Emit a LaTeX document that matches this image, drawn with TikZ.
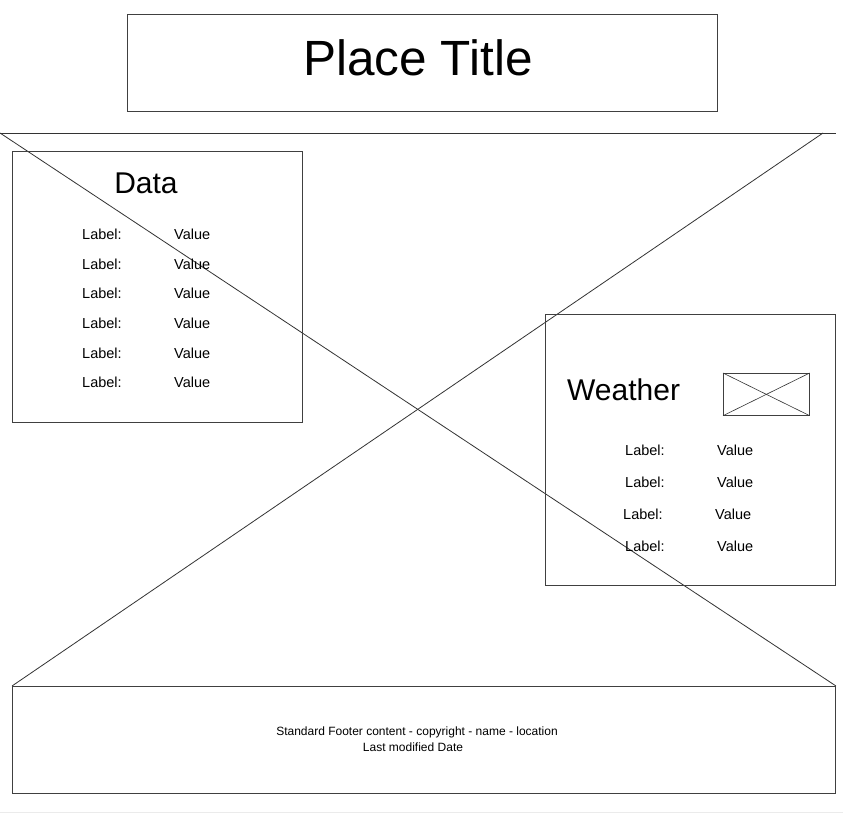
\documentclass[tikz,border=0pt]{standalone}
\usepackage{fontspec}
\setmainfont{Liberation Sans}
\begin{document}
\begin{tikzpicture}[x=1pt,y=-1pt,
  frame/.style={draw=black!75,line width=0.8pt},
  xline/.style={draw=black!80,line width=0.8pt},
  box/.style={frame,inner sep=0pt,anchor=north west},
  lbl/.style={inner sep=0pt,anchor=west,font=\fontsize{14.5}{17}\selectfont},
  foot/.style={inner sep=0pt,anchor=base,font=\fontsize{12}{14}\selectfont}]
\useasboundingbox[fill=white] (0,0) rectangle (843,814);
\draw[black!8,line width=1pt] (0,812) -- (843,812);
% title
\node[box,minimum width=590pt,minimum height=97pt] (title) at (127,14) {};
\node[inner sep=0pt,font=\fontsize{49.5}{55}\selectfont] (ttext) at (418,58) {Place Title};
% big cross
\coordinate (tl) at (0,133);
\coordinate (tr) at (836,133);
\coordinate (trx) at (823,133);
\coordinate (bl) at (12,686);
\coordinate (br) at (836,686);
\draw[xline] (tl) -- (tr);
\draw[xline] (tl) -- (br);
\draw[xline] (trx) -- (bl);
% data box
\node[box,minimum width=290pt,minimum height=271pt] (data) at (12,151) {};
\node[inner sep=0pt,font=\fontsize{30}{34}\selectfont] (dtitle) at (146,183) {Data};
\foreach \y [count=\i] in {234,264,293,323,353,382}{
  \node[lbl] (dl\i) at (82,\y) {Label:};
  \node[lbl] (dv\i) at (174,\y) {Value};
}
% weather box
\node[box,minimum width=290pt,minimum height=271pt] (weather) at (545,314) {};
\node[inner sep=0pt,font=\fontsize{30}{34}\selectfont,anchor=west] (wtitle) at (567,390) {Weather};
\node[box,minimum width=86pt,minimum height=42pt,line width=0.7pt] (icon) at (723,373) {};
\draw[xline,line width=0.6pt] (icon.north west) -- (icon.south east);
\draw[xline,line width=0.6pt] (icon.north east) -- (icon.south west);
\node[lbl] (wl1) at (625,450) {Label:};
\node[lbl] (wv1) at (717,450) {Value};
\node[lbl] (wl2) at (625,482) {Label:};
\node[lbl] (wv2) at (717,482) {Value};
\node[lbl] (wl3) at (623,514) {Label:};
\node[lbl] (wv3) at (715,514) {Value};
\node[lbl] (wl4) at (625,546) {Label:};
\node[lbl] (wv4) at (717,546) {Value};
% footer
\node[box,minimum width=823pt,minimum height=107pt] (footer) at (12,686) {};
\node[foot] (f1) at (417,735) {Standard Footer content - copyright - name - location};
\node[foot] (f2) at (413,751) {Last modified Date};
\end{tikzpicture}
\end{document}
